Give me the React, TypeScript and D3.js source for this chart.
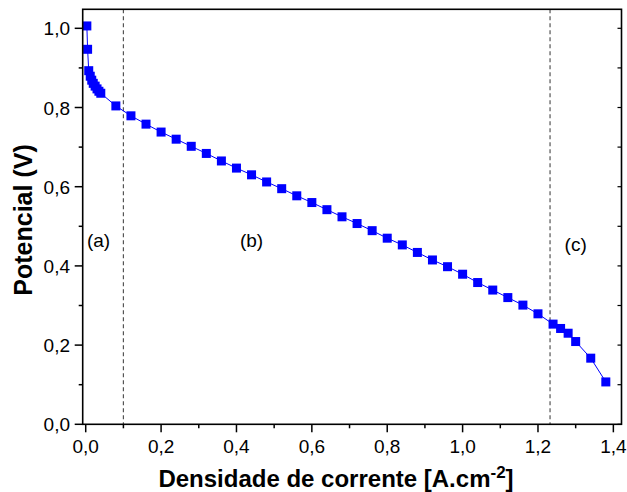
import React from "react";
import * as d3 from "d3";

const currentDensity = [
  0.003, 0.005, 0.008, 0.012, 0.016, 0.02, 0.025, 0.03, 0.035, 0.04,
  0.08, 0.12, 0.16, 0.2, 0.24, 0.28, 0.32, 0.36, 0.4, 0.44, 0.48, 0.52,
  0.56, 0.6, 0.64, 0.68, 0.72, 0.76, 0.8, 0.84, 0.88, 0.92, 0.96, 1.0,
  1.04, 1.08, 1.12, 1.16, 1.2, 1.24, 1.26, 1.28, 1.3, 1.34, 1.38,
];
const potential = [
  1.006, 0.947, 0.893, 0.879, 0.869, 0.861, 0.854, 0.847, 0.841, 0.836,
  0.804, 0.779, 0.758, 0.738, 0.72, 0.702, 0.684, 0.665, 0.647, 0.63, 0.612, 0.595,
  0.577, 0.56, 0.542, 0.524, 0.507, 0.489, 0.47, 0.453, 0.434, 0.415, 0.398, 0.379,
  0.358, 0.339, 0.32, 0.301, 0.279, 0.253, 0.242, 0.23, 0.209, 0.167, 0.107,
];
const xTicks = [0, 0.2, 0.4, 0.6, 0.8, 1.0, 1.2, 1.4];
const xMinor = [0.1, 0.3, 0.5, 0.7, 0.9, 1.1, 1.3];
const yTicks = [0, 0.2, 0.4, 0.6, 0.8, 1.0];
const yMinor = [0.1, 0.3, 0.5, 0.7, 0.9];
const regionBounds = [0.1, 1.232];
const regionLabels = ["(a)", "(b)", "(c)"];
const regionLabelX = [0.034, 0.44, 1.30];
const regionLabelY = [0.465, 0.465, 0.455];

const fmt = (v: number) => v.toFixed(1).replace(".", ",");

export default function App() {
  const left = 82.7, right = 621.5, top = 9.3, bottom = 424.3;
  const x = d3.scaleLinear().domain([-0.008, 1.4216]).range([left, right]);
  const y = d3.scaleLinear().domain([0, 1.048]).range([bottom, top]);
  const data = currentDensity.map((c, i) => [c, potential[i]] as [number, number]);
  const line = d3.line<[number, number]>().x(d => x(d[0])).y(d => y(d[1]));
  const font = "'Liberation Sans', Arial, sans-serif";
  const ms = 9;
  return (
    <svg width={627} height={492} style={{ position: "absolute", left: 0, top: 0 }}>
      <rect x={0} y={0} width={627} height={492} fill="#fff" />
      {regionBounds.map((b, i) => (
        <line key={"d" + i} x1={x(b)} x2={x(b)} y1={top} y2={bottom}
          stroke="#555" strokeWidth={1.2} strokeDasharray="4,3" />
      ))}
      <path d={line(data) || ""} fill="none" stroke="#0000ff" strokeWidth={1} />
      {data.map((d, i) => (
        <rect key={"m" + i} x={x(d[0]) - ms / 2} y={y(d[1]) - ms / 2} width={ms} height={ms} fill="#0000ff" />
      ))}
      <rect x={left} y={top} width={right - left} height={bottom - top} fill="none" stroke="#000" strokeWidth={1.6} />
      {xTicks.map(t => (
        <g key={"xt" + t}>
          <line x1={x(t)} x2={x(t)} y1={bottom} y2={bottom + 8} stroke="#000" strokeWidth={1.5} />
          <text x={x(t)} y={452.5} textAnchor="middle" fontFamily={font} fontSize={19}>{fmt(t)}</text>
        </g>
      ))}
      {xMinor.map(t => (
        <line key={"xm" + t} x1={x(t)} x2={x(t)} y1={bottom} y2={bottom + 4} stroke="#000" strokeWidth={1.5} />
      ))}
      {yTicks.map(t => (
        <g key={"yt" + t}>
          <line x1={left - 8} x2={left} y1={y(t)} y2={y(t)} stroke="#000" strokeWidth={1.5} />
          <line x1={right - 4} x2={right} y1={y(t)} y2={y(t)} stroke="#000" strokeWidth={1.2} />
          <text x={70} y={y(t) + 7} textAnchor="end" fontFamily={font} fontSize={19}>{fmt(t)}</text>
        </g>
      ))}
      {yMinor.map(t => (
        <g key={"ym" + t}>
          <line x1={left - 4} x2={left} y1={y(t)} y2={y(t)} stroke="#000" strokeWidth={1.5} />
          <line x1={right - 4} x2={right} y1={y(t)} y2={y(t)} stroke="#000" strokeWidth={1.2} />
        </g>
      ))}
      {regionLabels.map((l, i) => (
        <text key={"r" + i} x={x(regionLabelX[i])} y={y(regionLabelY[i]) + 6.5} textAnchor="middle"
          fontFamily={font} fontSize={19}>{l}</text>
      ))}
      <text x={336} y={487} textAnchor="middle" fontFamily={font} fontSize={24} fontWeight="bold">
        Densidade de corrente [A.cm<tspan dy={-9} fontSize={17}>-2</tspan><tspan dy={9}>]</tspan>
      </text>
      <text transform={`translate(32, 220) rotate(-90)`} textAnchor="middle"
        fontFamily={font} fontSize={25} fontWeight="bold">Potencial (V)</text>
    </svg>
  );
}
